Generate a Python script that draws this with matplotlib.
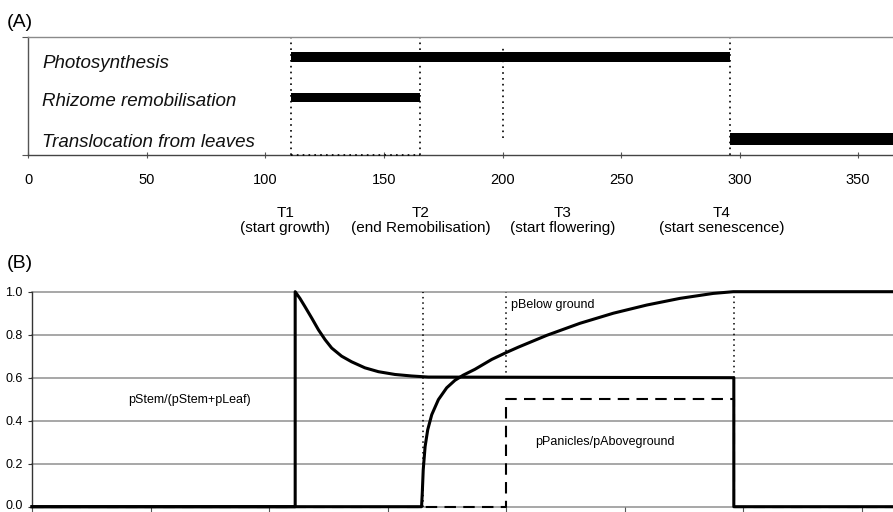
import matplotlib
matplotlib.use("Agg")
import matplotlib.pyplot as plt
import matplotlib.transforms as mtransforms

plt.rcParams['font.family'] = ['Liberation Sans', 'DejaVu Sans']

# ---------------- data ----------------
# Panel A: processes and their active periods (day of year)
activities = ['Photosynthesis', 'Rhizome remobilisation', 'Translocation from leaves']
act_start = [111, 111, 296]
act_end = [296, 165, 365]

# key time points
t_days = [111, 165, 200, 296]
t_names = ['T1', 'T2', 'T3', 'T4']
t_desc = ['(start growth)', '(end Remobilisation)', '(start flowering)', '(start senescence)']

# Panel B: partitioning curves
stem_x = [0, 111, 111, 113.0, 115.1, 118.0, 120.8, 123.6, 126.4, 130.6, 134.8,
          140.4, 146.1, 153.1, 160.1, 167.1, 296, 296, 365]
stem_y = [0, 0, 1.0, 0.969, 0.931, 0.877, 0.823, 0.777, 0.738, 0.700, 0.674,
          0.646, 0.628, 0.615, 0.608, 0.603, 0.60, 0, 0]

below_x = [0, 164.3, 164.6, 165.0, 165.8, 166.9, 168.6, 171.4, 174.9, 178.4,
           181.9, 186.8, 193.9, 200.2, 205.1, 217.1, 231.1, 245.2, 259.3,
           273.3, 287.3, 295.8, 365]
below_y = [0, 0, 0.062, 0.171, 0.28, 0.358, 0.428, 0.498, 0.553, 0.588,
           0.612, 0.639, 0.685, 0.718, 0.742, 0.797, 0.853, 0.900, 0.938,
           0.969, 0.992, 1.0, 1.0]

panicle_x = [0, 200, 200, 296, 296, 365]
panicle_y = [0, 0, 0.5, 0.5, 0, 0]

x_ticks = [0, 50, 100, 150, 200, 250, 300, 350]
y_ticks_B = [0.0, 0.2, 0.4, 0.6, 0.8, 1.0]

# ---------------- figure ----------------
W, H = 893, 512
fig = plt.figure(figsize=(W / 100, H / 100), dpi=100)
scale = 2.371  # px per day

# ---------- Panel A ----------
axA = fig.add_axes([28.3 / W, 1 - 155 / H, 365 * scale / W, 118 / H])
axA.set_xlim(0, 365)
axA.set_ylim(0, 3)
bar_y = [2.486, 1.47, 0.407]
bar_h = [0.24, 0.23, 0.33]
for i in range(len(activities)):
    axA.barh(bar_y[i], act_end[i] - act_start[i], left=act_start[i],
             height=bar_h[i], color='black', zorder=3, clip_on=False)
text_y = [2.20, 1.246, 0.211]
for i, name in enumerate(activities):
    axA.text(5.8, text_y[i], name, fontsize=13.5, style='italic',
             ha='left', va='baseline', color='#111111')

# dotted vertical lines
for t in t_days:
    if t == 200:
        axA.plot([t, t], [0.43, 2.80], color='black', lw=1.2, ls=(0, (1, 2.5)), zorder=2)
    else:
        axA.plot([t, t], [0, 3], color='black', lw=1.2, ls=(0, (1, 2.5)), zorder=2, clip_on=False)
axA.plot([t_days[0], t_days[1]], [0, 0], color='black', lw=1.2, ls=(0, (1, 2.5)), zorder=4, clip_on=False)

axA.spines['right'].set_visible(False)
axA.spines['top'].set_color('#8a8a8a')
axA.spines['top'].set_linewidth(1.0)
axA.spines['left'].set_color('#555555')
axA.spines['bottom'].set_color('#444444')
axA.spines['left'].set_linewidth(1.0)
axA.spines['bottom'].set_linewidth(1.0)
axA.set_yticks([0, 3])
axA.set_yticklabels([])
axA.tick_params(axis='y', direction='out', length=4, color='#555555')
axA.set_xticks(x_ticks)
axA.set_xticklabels([str(v) for v in x_ticks], fontsize=10.5)
axA.tick_params(axis='x', direction='inout', length=5, color='#555555', pad=10.5)

# T labels below panel A
t_label_x = [108.3, 165.6, 225.3, 292.5]
for i in range(len(t_days)):
    px = 28.3 + t_label_x[i] * scale
    fig.text(px / W, 1 - 217 / H, t_names[i], fontsize=11, ha='center', va='baseline')
    fig.text(px / W, 1 - 232 / H, t_desc[i], fontsize=11, ha='center', va='baseline')

fig.text(7 / W, 1 - 27 / H, '(A)', fontsize=14, ha='left', va='baseline')
fig.text(7 / W, 1 - 268 / H, '(B)', fontsize=14, ha='left', va='baseline')

# ---------- Panel B ----------
axB = fig.add_axes([32 / W, 1 - 506.7 / H, 365 * scale / W, 215 / H])
axB.set_xlim(0, 365)
axB.set_ylim(0, 1)
for yv in y_ticks_B:
    axB.axhline(yv, color='#8f8f8f', lw=1.1, zorder=1, clip_on=False)

# dotted verticals
axB.plot([t_days[1], t_days[1]], [0.0, 1.0], color='black', lw=1.1, ls=(0, (1, 2.5)), zorder=2)
axB.plot([t_days[2], t_days[2]], [0.6, 1.0], color='black', lw=1.1, ls=(0, (1, 2.5)), zorder=2)
axB.plot([t_days[3], t_days[3]], [0.6, 1.0], color='black', lw=1.1, ls=(0, (1, 2.5)), zorder=2)

axB.plot(panicle_x, panicle_y, color='black', lw=1.5, dashes=(5.5, 3.5), zorder=3, clip_on=False)
axB.plot(below_x, below_y, color='black', lw=2.2, zorder=4, clip_on=False, solid_joinstyle='round')
axB.plot(stem_x, stem_y, color='black', lw=2.2, zorder=5, clip_on=False, solid_joinstyle='round')

axB.text(40.6, 0.482, 'pStem/(pStem+pLeaf)', fontsize=9, ha='left', va='baseline')
axB.text(201.9, 0.926, 'pBelow ground', fontsize=9, ha='left', va='baseline')
axB.text(212.4, 0.287, 'pPanicles/pAboveground', fontsize=9, ha='left', va='baseline')

for s in ['top', 'right', 'bottom']:
    axB.spines[s].set_visible(False)
axB.spines['left'].set_color('#333333')
axB.spines['left'].set_linewidth(1.0)
axB.set_yticks(y_ticks_B)
axB.set_yticklabels(['%.1f' % v for v in y_ticks_B], fontsize=9)
axB.tick_params(axis='y', direction='out', length=3, color='#333333', pad=3.8)
axB.set_xticks(x_ticks)
axB.set_xticklabels([])
axB.tick_params(axis='x', direction='out', length=4, color='#555555')

# nudge the bottom tick label up slightly so it stays inside the canvas
lbl0 = axB.get_yticklabels()[0]
lbl0.set_transform(lbl0.get_transform() +
                   mtransforms.ScaledTranslation(0, 2.5 / 100, fig.dpi_scale_trans))

fig.savefig('out.png', dpi=100)
